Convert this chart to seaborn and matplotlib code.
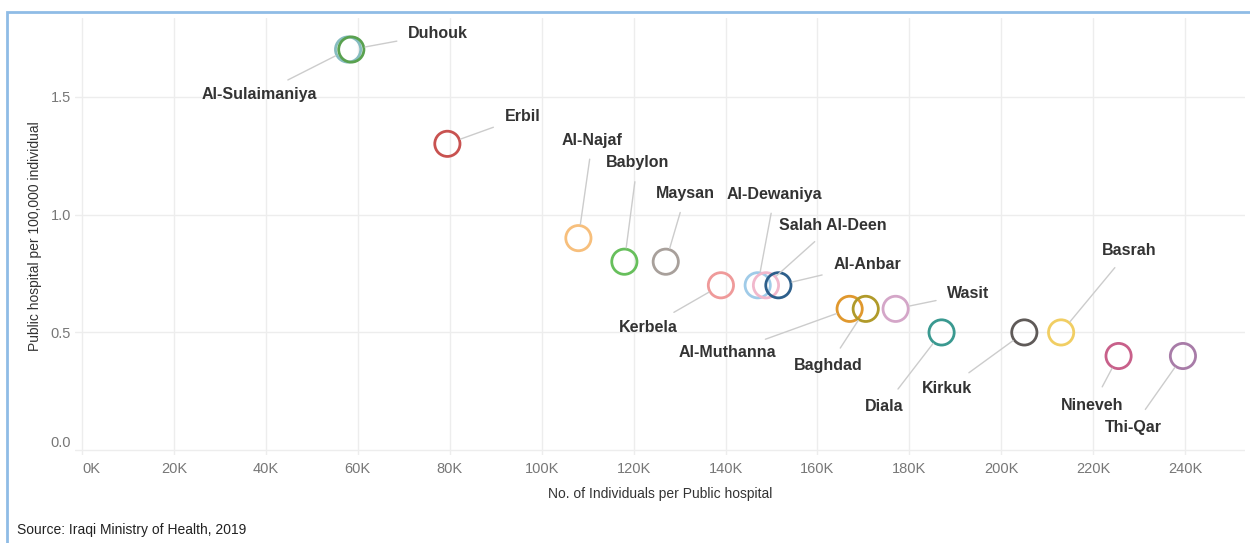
import matplotlib
matplotlib.use("Agg")
import pandas as pd
import seaborn as sns
from matplotlib import pyplot as plt
from matplotlib.ticker import FuncFormatter
from matplotlib.patches import Rectangle

# data
regions = ["Al-Sulaimaniya", "Duhouk", "Erbil", "Al-Najaf", "Babylon", "Maysan", "Kerbela",
           "Al-Dewaniya", "Salah Al-Deen", "Al-Anbar", "Al-Muthanna", "Baghdad", "Wasit",
           "Diala", "Kirkuk", "Basrah", "Nineveh", "Thi-Qar"]
people_per_hospital = [57900, 58600, 79500, 108000, 118000, 127000, 139000,
                       147000, 148800, 151500, 167000, 170500, 177000,
                       187000, 205000, 213000, 225500, 239500]
hospitals_per_100k = [1.7, 1.7, 1.3, 0.9, 0.8, 0.8, 0.7,
                      0.7, 0.7, 0.7, 0.6, 0.6, 0.6,
                      0.5, 0.5, 0.5, 0.4, 0.4]

colors = ["#86bcc0", "#59a14f", "#c85250", "#f7bf7c", "#67bf5c", "#a8a09b", "#ef9a9a",
          "#a0cbe8", "#f1b8cc", "#2d5f8b", "#e0982e", "#b09a2a", "#d4a6c8",
          "#3a9990", "#5f5a58", "#f1ce63", "#c8608a", "#a87ca8"]

# label offsets in pixels from each circle (layout only)
label_offsets = {
    "Al-Sulaimaniya": (-89, -45), "Duhouk": (87, 16), "Erbil": (75, 27),
    "Al-Najaf": (14, 98), "Babylon": (13, 99), "Maysan": (20, 68),
    "Kerbela": (-73, -42), "Al-Dewaniya": (17, 91), "Salah Al-Deen": (67, 60),
    "Al-Anbar": (89, 21), "Al-Muthanna": (-122, -44), "Baghdad": (-37, -57),
    "Wasit": (73, 15), "Diala": (-57, -74), "Kirkuk": (-77, -56),
    "Basrah": (68, 82), "Nineveh": (-26, -49), "Thi-Qar": (-50, -71),
}

df = pd.DataFrame({"region": regions, "people": people_per_hospital, "rate": hospitals_per_100k})

sns.set_style("white")
plt.rcParams["font.family"] = ["Liberation Sans", "DejaVu Sans"]

fig = plt.figure(figsize=(12.5, 5.43), dpi=100)
ax = fig.add_axes([0.06, 0.162, 0.936, 0.805])

sns.scatterplot(data=df, x="people", y="rate", hue="region", palette=colors,
                s=330, linewidth=2, legend=False, ax=ax, zorder=3)
pts = ax.collections[0]
pts.set_edgecolors(pts.get_facecolors())
pts.set_facecolors("none")

for name, xv, yv in zip(regions, people_per_hospital, hospitals_per_100k):
    dx, dy = label_offsets[name]
    ax.annotate(name, xy=(xv, yv), xytext=(dx, dy), textcoords="offset pixels",
                ha="center", va="center", fontsize=11.5, fontweight="bold", color="#333333",
                arrowprops=dict(arrowstyle="-", color="#cccccc", lw=1, shrinkA=6, shrinkB=10))

ax.set_xlim(-1500, 253000)
ax.set_ylim(-0.02, 1.834)
ax.set_xticks(range(0, 240001, 20000))
ax.set_yticks([0, 0.5, 1.0, 1.5])
ax.xaxis.set_major_formatter(FuncFormatter(lambda v, p: f"{v/1000:.0f}K"))
ax.yaxis.set_major_formatter(FuncFormatter(lambda v, p: f"{v:.1f}"))
ax.grid(True, color="#ededed", lw=1)
ax.set_axisbelow(True)
for s in ax.spines.values():
    s.set_visible(False)
ax.tick_params(axis="both", length=0, labelsize=10.5, labelcolor="#777777")
ax.tick_params(axis="x", pad=5)
ax.tick_params(axis="y", pad=3)
ax.get_xticklabels()[0].set_ha("left")
ax.get_yticklabels()[0].set_va("bottom")

ax.set_xlabel("No. of Individuals per Public hospital", fontsize=10, color="#333333", labelpad=8)
ax.set_ylabel("Public hospital per 100,000 individual", fontsize=10, color="#333333", labelpad=6)

fig.text(17 / 1250, 1 - 530 / 543, "Source: Iraqi Ministry of Health, 2019",
         fontsize=10, color="#222222", va="center", ha="left")

fig.patches.append(Rectangle((7 / 1250, -0.05), 1.1, 1 - 12 / 543 + 0.05,
                             transform=fig.transFigure, fill=False,
                             edgecolor="#8fbce6", lw=2, zorder=0))

fig.savefig("out.png", dpi=100)
